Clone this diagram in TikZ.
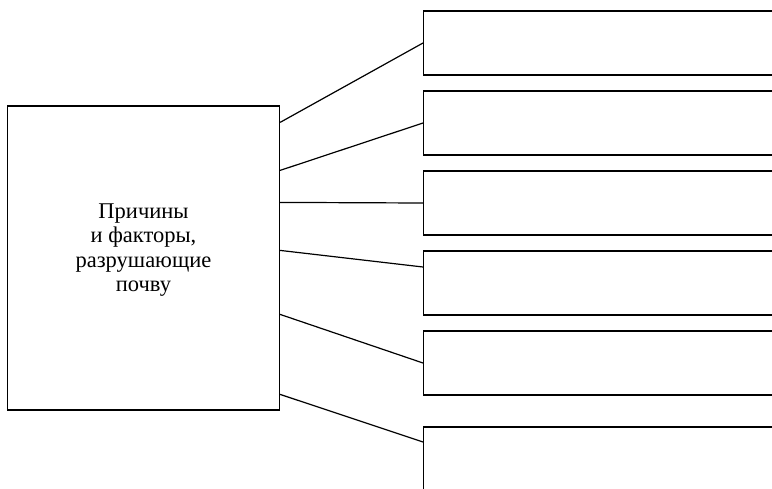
\documentclass[tikz,border=0pt]{standalone}
\usepackage{fontspec}
\setmainfont{Liberation Serif}
\usepackage{tikz}
\usetikzlibrary{calc}
\tikzset{
	mainbox/.style={draw, line width=1.2pt, minimum width=272pt, minimum height=304pt, inner sep=0pt},
	factorbox/.style={draw, line width=1.2pt, anchor=west, minimum width=380pt, minimum height=64pt, inner sep=0pt},
	link/.style={line width=1.2pt}
}
\begin{document}
\begin{tikzpicture}[x=1pt,y=-1pt]
		% Fix the page size and cut the boxes at the right edge
		\useasboundingbox (0,0) rectangle (772,488);
		\clip (0,0) rectangle (772,488);

		% Draw the main box with its text
		\node[mainbox] (main) at (143.5,258) {};
		\node[align=center, font=\rmfamily\fontsize{22.5}{24.5}\selectfont] (title) at ([yshift=8pt]main.center) {Причины\\и факторы,\\разрушающие\\почву};

		% Draw the empty boxes on the right
		\node[factorbox] (f1) at (423,43) {};
		\node[factorbox] (f2) at (423,123) {};
		\node[factorbox] (f3) at (423,203) {};
		\node[factorbox] (f4) at (423,283) {};
		\node[factorbox] (f5) at (423,363) {};
		\node[factorbox] (f6) at (423,459) {};

		% Connect the main box to each of them
		\draw[link] ([yshift=-17pt]main.north east) -- (f1.west);
		\draw[link] ([yshift=-65pt]main.north east) -- (f2.west);
		\draw[link] ([yshift=-97pt]main.north east) -- (f3.west);
		\draw[link] ([yshift=-145pt]main.north east) -- ([yshift=16pt]f4.west);
		\draw[link] ([yshift=-209pt]main.north east) -- (f5.west);
		\draw[link] ([yshift=-289pt]main.north east) -- ([yshift=17pt]f6.west);
	\end{tikzpicture}
\end{document}
